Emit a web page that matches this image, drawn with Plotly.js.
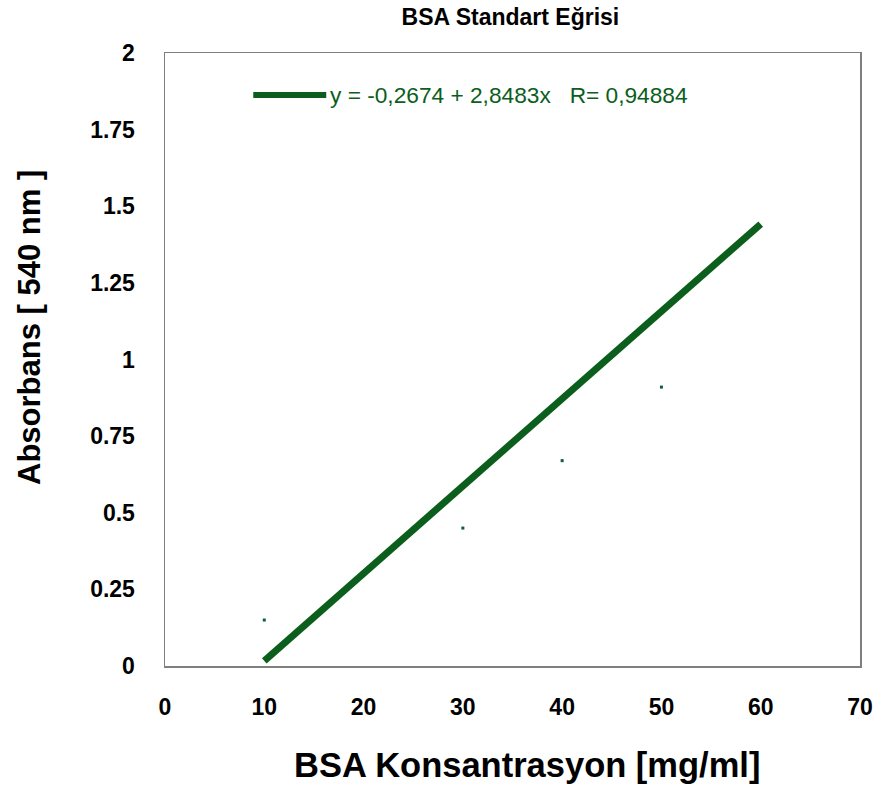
<!DOCTYPE html>
<html>
<head>
<meta charset="utf-8">
<script src="https://cdn.plot.ly/plotly-3.0.1.min.js"></script>
<style>html,body{margin:0;padding:0;background:#fff;}#chart{width:880px;height:787px;}</style>
</head>
<body>
<div id="chart"></div>
<script>
// Measured points (BSA concentration mg/ml vs absorbance 540 nm)
var concentration = [10, 30, 40, 50];
var absorbance = [0.15, 0.45, 0.67, 0.91];
// Linear fit line endpoints
var fitX = [10, 60];
var fitY = [0.017, 1.442];
var xTicks = [0, 10, 20, 30, 40, 50, 60, 70];
var yTicks = [0, 0.25, 0.5, 0.75, 1, 1.25, 1.5, 1.75, 2];
var yTickText = ["0", "0.25", "0.5", "0.75", "1", "1.25", "1.5", "1.75", "2"];
var fitLabel = "y = -0,2674 + 2,8483x   R= 0,94884";
var chartTitle = "BSA Standart Eğrisi";
var xTitle = "BSA Konsantrasyon [mg/ml]";
var yTitle = "Absorbans [ 540 nm ]";

var green = "#0b5e1c";
var font = "Liberation Sans, Arial, sans-serif";

var traces = [
  {
    x: fitX, y: fitY, type: "scatter", mode: "lines",
    line: {color: green, width: 7},
    name: fitLabel, showlegend: false, hoverinfo: "skip"
  },
  {
    x: concentration, y: absorbance, type: "scatter", mode: "markers",
    marker: {color: "#0d5e3a", size: 3, symbol: "square"},
    name: "BSA", showlegend: false
  }
];

var layout = {
  width: 880, height: 787,
  margin: {l: 165, r: 20, t: 53, b: 121},
  paper_bgcolor: "#fff", plot_bgcolor: "#fff",
  font: {family: font, color: "#000"},
  title: {
    text: "<b>" + chartTitle + "</b>",
    font: {family: font, size: 23, color: "#000"},
    x: 0.58, xanchor: "center", y: 0.978, yanchor: "middle", xref: "container"
  },
  xaxis: {
    range: [0, 70], tickvals: xTicks, ticktext: xTicks.map(String),
    showgrid: false, zeroline: false,
    showline: true, mirror: true, linecolor: "#7f7f7f", linewidth: 1.5,
    ticks: "", ticklabelstandoff: 20,
    tickfont: {family: font, size: 23, color: "#000", weight: "bold"}
  },
  yaxis: {
    range: [0, 2], tickvals: yTicks, ticktext: yTickText,
    showgrid: false, zeroline: false,
    showline: true, mirror: true, linecolor: "#7f7f7f", linewidth: 1.5,
    ticks: "", ticklabelstandoff: 24,
    tickfont: {family: font, size: 23, color: "#000", weight: "bold"}
  },
  shapes: [
    {type: "line", xref: "paper", yref: "paper", x0: 0.127, x1: 0.232, y0: 0.9315, y1: 0.9315,
     line: {color: green, width: 6}}
  ],
  annotations: [
    {xref: "paper", yref: "paper", x: 0.235, y: 0.9315, xanchor: "left", yanchor: "middle",
     text: fitLabel, showarrow: false, font: {family: font, size: 22.7, color: green}},
    {xref: "paper", yref: "paper", x: 0.521, y: -0.1615, xanchor: "center", yanchor: "middle",
     text: "<b>" + xTitle + "</b>", showarrow: false, font: {family: font, size: 34.5, color: "#000"}},
    {xref: "paper", yref: "paper", x: -0.1957, y: 0.553, xanchor: "center", yanchor: "middle",
     textangle: -90, text: "<b>" + yTitle + "</b>", showarrow: false, font: {family: font, size: 31, color: "#000"}}
  ]
};

Plotly.newPlot("chart", traces, layout, {displayModeBar: false, staticPlot: true});
</script>
</body>
</html>
